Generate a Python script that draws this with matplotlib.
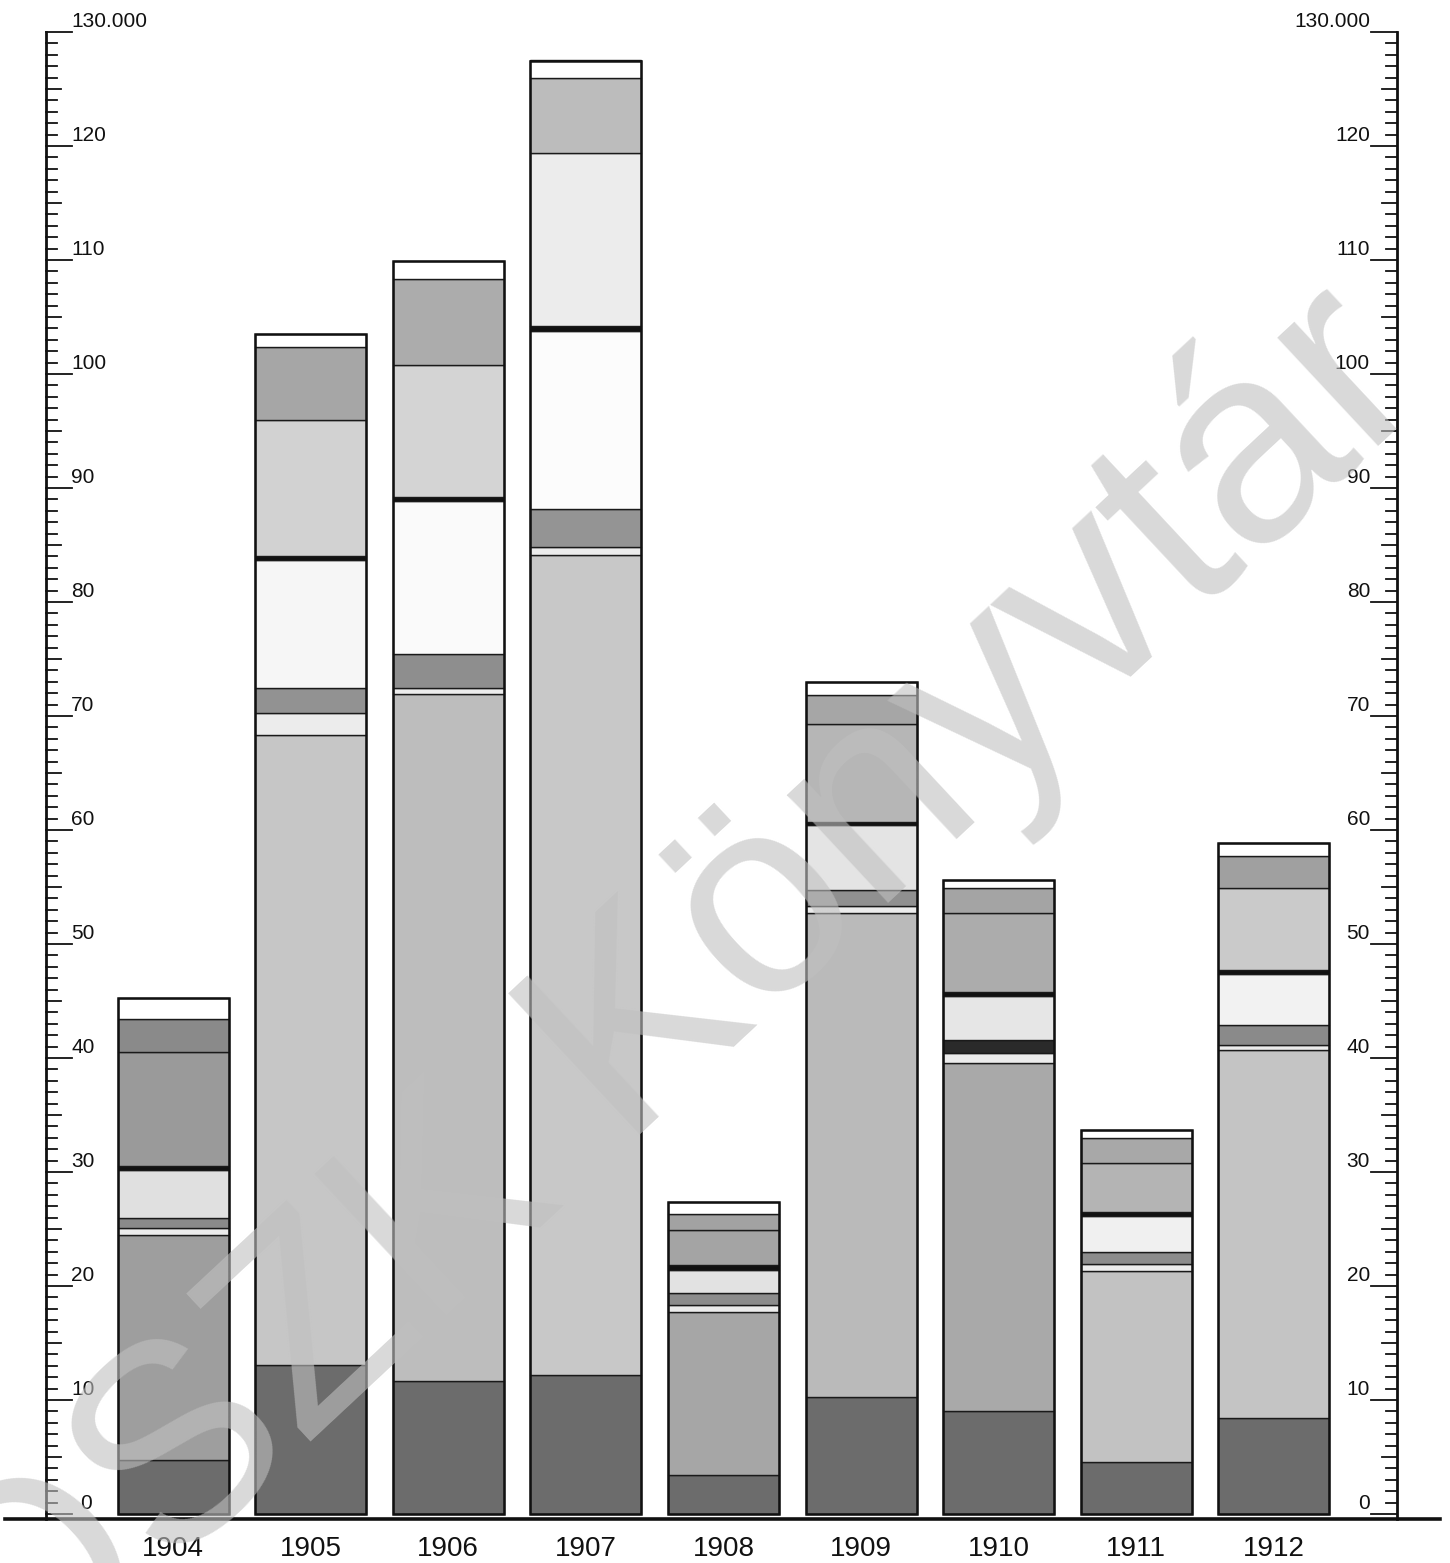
import matplotlib
matplotlib.use("Agg")
import matplotlib.pyplot as plt
import numpy as np

plt.rcParams['font.family'] = ['Liberation Sans Narrow', 'Liberation Sans', 'DejaVu Sans']

years = ["1904", "1905", "1906", "1907", "1908", "1909", "1910", "1911", "1912"]

# segment heights in thousands, bottom to top
base_dark  = [4.7, 13.1, 11.7, 12.2, 3.4, 10.3, 9.0, 4.6, 8.4]
main_body  = [19.8, 55.2, 60.2, 71.9, 14.3, 42.4, 30.6, 16.7, 32.3]
light_band = [0.6, 2.0, 0.6, 0.7, 0.6, 0.6, 0.8, 0.6, 0.4]
gray_band  = [0.9, 2.2, 2.9, 3.4, 1.1, 1.4, 1.2, 1.1, 1.8]
pale_block = [4.2, 11.2, 13.5, 15.6, 2.0, 5.7, 3.8, 3.1, 4.5]
black_rule = [0.3, 0.3, 0.3, 0.4, 0.4, 0.3, 0.4, 0.4, 0.3]
dotted_mid = [10.0, 12.0, 11.6, 15.2, 3.1, 8.6, 6.9, 4.3, 7.2]
dotted_top = [2.9, 6.4, 7.5, 6.6, 1.4, 2.5, 2.2, 2.2, 2.8]
top_cap    = [1.9, 1.1, 1.6, 1.5, 1.1, 1.2, 0.7, 0.7, 1.2]

tick_major = list(range(0, 131, 10))
tick_labels = ["0", "10", "20", "30", "40", "50", "60", "70", "80", "90",
               "100", "110", "120", "130.000"]

# tones of the printed screens (per bar, they differ a bit in the print)
main_tone = ['#9e9e9e', '#c6c6c6', '#bdbdbd', '#c8c8c8', '#a6a6a6', '#bababa', '#a9a9a9', '#c2c2c2', '#c4c4c4']
band_tone = ['#8a8a8a', '#929292', '#8e8e8e', '#949494', '#8c8c8c', '#909090', '#2a2a2a', '#8c8c8c', '#8a8a8a']
pale_tone = ['#e0e0e0', '#f6f6f6', '#fafafa', '#fcfcfc', '#e2e2e2', '#e4e4e4', '#e6e6e6', '#f0f0f0', '#f2f2f2']
mid_tone  = ['#9a9a9a', '#d2d2d2', '#d4d4d4', '#ececec', '#a4a4a4', '#b6b6b6', '#acacac', '#b4b4b4', '#cacaca']
top_tone  = ['#8a8a8a', '#a6a6a6', '#acacac', '#bcbcbc', '#a2a2a2', '#a6a6a6', '#a4a4a4', '#a8a8a8', '#a0a0a0']

# pixel geometry of the scan
W, H = 1450, 1563
X0, STEP = 173.0, 137.6      # px of first bar centre, px between bars
Y0, PXV = 1514.0, 11.4       # px of zero line, px per thousand

def xd(px):
    return (px - X0) / STEP

def yd(py):
    return (Y0 - py) / PXV

fig = plt.figure(figsize=(W / 100, H / 100), dpi=100)
ax = fig.add_axes([0, 0, 1, 1])
ax.set_xlim(xd(0), xd(W))
ax.set_ylim(yd(H), yd(0))
ax.axis('off')

x = np.arange(len(years))
width = 111 / STEP
segments = [
    (base_dark, ['#6c6c6c'] * 9),
    (main_body, main_tone),
    (light_band, ['#ececec'] * 9),
    (gray_band, band_tone),
    (pale_block, pale_tone),
    (black_rule, ['#111111'] * 9),
    (dotted_mid, mid_tone),
    (dotted_top, top_tone),
    (top_cap, ['white'] * 9),
]
bottom = np.zeros(len(years))
for vals, tones in segments:
    ax.bar(x, vals, width, bottom=bottom, color=tones, edgecolor='#1a1a1a',
           linewidth=1.0, zorder=2)
    bottom += np.array(vals)
# outer frame of each column
ax.bar(x, bottom, width, fill=False, edgecolor='#111111', linewidth=1.8, zorder=3)

# base line
base_v = yd(1519)
ax.plot([xd(5), xd(1440)], [base_v, base_v], color='#111111', lw=2.6, zorder=4)

# left and right scales
for ax_px, sign in [(46, 1), (1397, -1)]:
    ax.plot([xd(ax_px), xd(ax_px)], [base_v, 130], color='#111111', lw=2.0, zorder=4)
    for v in range(0, 131):
        if v % 10 == 0:
            ln = 26
        elif v % 5 == 0:
            ln = 15
        else:
            ln = 11
        ax.plot([xd(ax_px), xd(ax_px + sign * ln)], [v, v], color='#111111',
                lw=1.3, zorder=4)

for v, lab in zip(tick_major, tick_labels):
    lx = 80 if v == 0 else 71
    ax.text(xd(lx), v + 0.1, lab, ha='left', va='bottom', fontsize=15, color='#111111')
    ax.text(xd(1370), v + 0.1, lab, ha='right', va='bottom', fontsize=15, color='#111111')

for i, yr in enumerate(years):
    ax.text(i, yd(1549), yr, ha='center', va='center', fontsize=20, color='#111111')

# library watermark of the scan
ax.text(xd(670), yd(1005), "OSZK Könyvtár", rotation=43, rotation_mode='anchor',
        ha='center', va='center', fontsize=202, color='#c0c0c0', alpha=0.6, zorder=6,
        family=['Liberation Sans', 'DejaVu Sans'])

fig.savefig("out.png", dpi=100)
